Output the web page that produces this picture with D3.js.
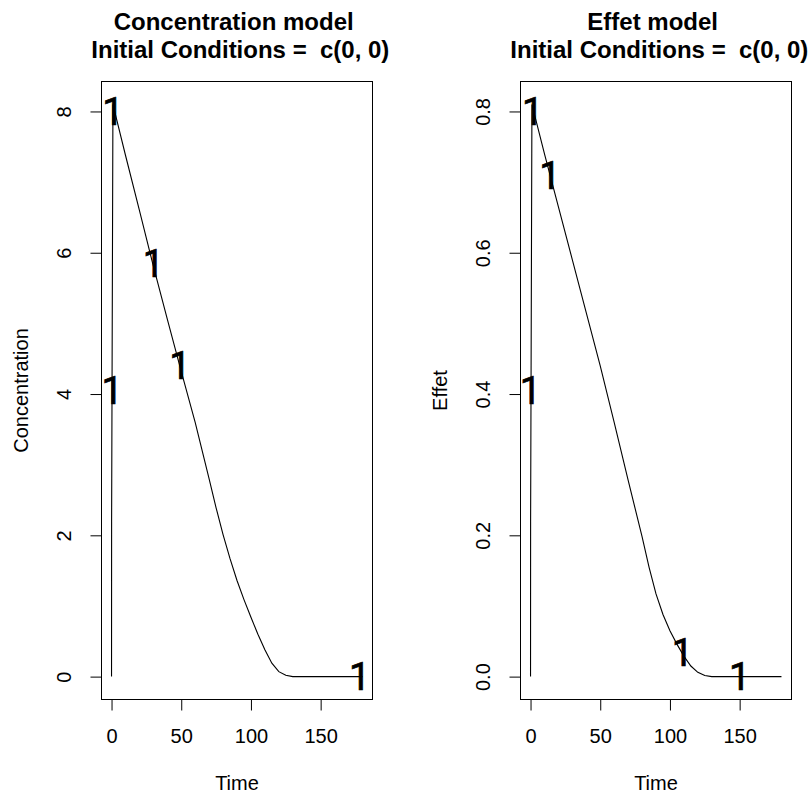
<!DOCTYPE html>
<html>
<head>
<meta charset="utf-8">
<script src="https://cdn.jsdelivr.net/npm/d3@7"></script>
<style>
  html, body { margin: 0; padding: 0; background: #fff; }
  svg { display: block; }
  text { font-family: "Liberation Sans", Arial, sans-serif; white-space: pre; }
</style>
</head>
<body>
<svg id="chart" width="809" height="796"></svg>
<script>
// ---- data ----
const time = [0, 0.05, 1, 10, 20, 30, 40, 50, 60, 70, 75, 80, 85, 90, 95, 100, 105, 110, 115, 120, 125, 130, 140, 150, 160, 170, 180];
const concentration = [0, 2.2, 8.1, 7.38, 6.6, 5.81, 5.06, 4.32, 3.6, 2.80, 2.39, 2.01, 1.67, 1.36, 1.09, 0.84, 0.60, 0.38, 0.19, 0.07, 0.018, 0, 0, 0, 0, 0, 0];
const effet = [0, 0.22, 0.81, 0.74, 0.665, 0.59, 0.515, 0.44, 0.36, 0.278, 0.238, 0.198, 0.155, 0.117, 0.088, 0.065, 0.046, 0.029, 0.015, 0.006, 0.0015, 0, 0, 0, 0, 0, 0];

const concMarkT = [1, 0.5, 30, 49, 178];
const concMarkV = [8.0, 4.05, 5.85, 4.4, 0];
const effMarkT = [1.5, 0, 14, 109, 150];
const effMarkV = [0.80, 0.405, 0.71, 0.034, 0];

const xTicks = [0, 50, 100, 150];
const concTicks = [0, 2, 4, 6, 8];
const effTicks = [0, 0.2, 0.4, 0.6, 0.8];

const titles = [["Concentration model ", " Initial Conditions =  c(0, 0)"], ["Effet model ", " Initial Conditions =  c(0, 0)"]];
const yLabels = ["Concentration", "Effet"];
const xLabel = "Time";

// ---- drawing ----
const svg = d3.select("#chart");
svg.append("rect").attr("width", 809).attr("height", 796).attr("fill", "#fff");

const panels = [
  { left: 101.5, right: 372.5, top: 81.5, bottom: 699.5, v: concentration, mt: concMarkT, mv: concMarkV, ticks: concTicks, fmt: d3.format("d"), title: titles[0], ylab: yLabels[0] },
  { left: 520.5, right: 791.5, top: 81.5, bottom: 699.5, v: effet, mt: effMarkT, mv: effMarkV, ticks: effTicks, fmt: d3.format(".1f"), title: titles[1], ylab: yLabels[1] }
];

function rDomain(lo, hi) { const r = hi - lo; return [lo - 0.04 * r, hi + 0.04 * r]; }

panels.forEach(p => {
  const x = d3.scaleLinear().domain(rDomain(d3.min(time), d3.max(time))).range([p.left, p.right]);
  const y = d3.scaleLinear().domain(rDomain(d3.min(p.v), d3.max(p.v))).range([p.bottom, p.top]);
  const g = svg.append("g");

  // curve
  const line = d3.line().x((d, i) => x(time[i])).y(d => y(d));
  g.append("path").datum(p.v).attr("d", line).attr("fill", "none").attr("stroke", "#000").attr("stroke-width", 1.1);

  // "1" markers
  const fs = 38;
  g.selectAll("text.mk").data(p.mt).enter().append("text")
    .attr("class", "mk")
    .attr("x", d => x(d))
    .attr("y", (d, i) => y(p.mv[i]) + 0.355 * fs)
    .attr("text-anchor", "middle")
    .attr("font-size", fs)
    .style("font-family", "Roboto, 'Open Sans', sans-serif")
    .attr("fill", "#000")
    .attr("stroke", "#000")
    .attr("stroke-width", 0.7)
    .text("1");

  // box
  g.append("rect").attr("x", p.left).attr("y", p.top)
    .attr("width", p.right - p.left).attr("height", p.bottom - p.top)
    .attr("fill", "none").attr("stroke", "#000").attr("stroke-width", 1);

  // x axis
  const xa = g.append("g").attr("transform", `translate(0,${p.bottom})`)
    .call(d3.axisBottom(x).tickValues(xTicks).tickSize(11).tickPadding(4).tickFormat(d3.format("d")));
  xa.select(".domain").attr("d", `M${x(xTicks[0])},0H${x(xTicks[xTicks.length - 1])}`).attr("stroke", "#000");
  xa.selectAll(".tick line").attr("stroke", "#000");
  xa.selectAll(".tick text").attr("font-size", 20).attr("font-family", "Liberation Sans, Arial, sans-serif")
    .attr("fill", "#000").attr("dy", null).attr("y", 43);

  // y axis
  const ya = g.append("g").attr("transform", `translate(${p.left},0)`)
    .call(d3.axisLeft(y).tickValues(p.ticks).tickSize(11).tickFormat(p.fmt));
  ya.select(".domain").attr("d", `M0,${y(p.ticks[0])}V${y(p.ticks[p.ticks.length - 1])}`).attr("stroke", "#000");
  ya.selectAll(".tick line").attr("stroke", "#000");
  ya.selectAll(".tick text").attr("font-size", 20).attr("font-family", "Liberation Sans, Arial, sans-serif")
    .attr("fill", "#000").attr("x", null).attr("dy", null)
    .attr("text-anchor", "middle")
    .attr("transform", "translate(-31,0) rotate(-90)");

  // titles
  const cx = (p.left + p.right) / 2;
  g.append("text").attr("x", cx).attr("y", 30).attr("text-anchor", "middle")
    .attr("font-size", 24).attr("font-weight", "bold").text(p.title[0]);
  g.append("text").attr("x", cx).attr("y", 58).attr("text-anchor", "middle")
    .attr("font-size", 24).attr("font-weight", "bold").text(p.title[1]);

  // axis titles
  g.append("text").attr("x", cx).attr("y", 790).attr("text-anchor", "middle")
    .attr("font-size", 20).text(xLabel);
  g.append("text").attr("transform", `translate(${p.left - 74},${(p.top + p.bottom) / 2}) rotate(-90)`)
    .attr("text-anchor", "middle").attr("font-size", 20).text(p.ylab);
});
</script>
</body>
</html>
